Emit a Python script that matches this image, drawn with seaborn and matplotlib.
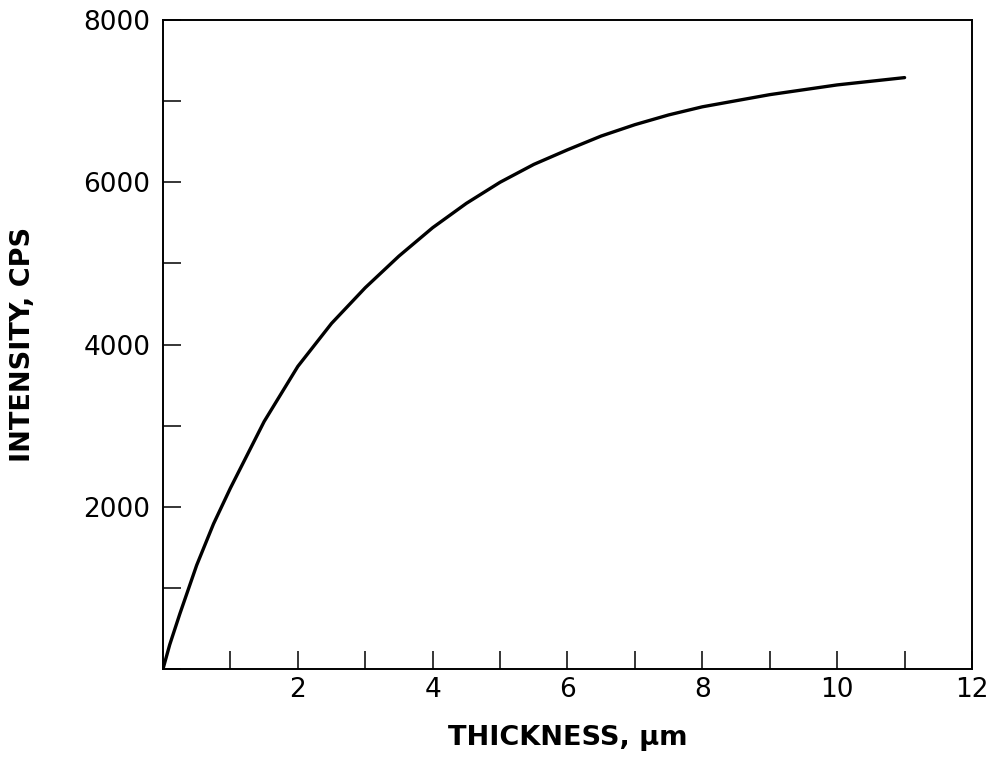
import matplotlib
matplotlib.use("Agg")
import matplotlib.pyplot as plt
import seaborn as sns
import numpy as np
import pandas as pd

# values
thickness = [0, 0.1, 0.25, 0.5, 0.75, 1.0, 1.5, 2.0, 2.5, 3.0, 3.5, 4.0, 4.5,
             5.0, 5.5, 6.0, 6.5, 7.0, 7.5, 8.0, 9.0, 10.0, 11.0]
intensity = [0, 300, 680, 1280, 1790, 2230, 3050, 3730, 4260, 4700, 5090, 5440, 5740,
             6000, 6220, 6400, 6570, 6710, 6830, 6930, 7080, 7200, 7290]

x_ticks = list(range(0, 13))
y_ticks = list(range(0, 8001, 1000))

sns.set_style("white")
plt.rcParams['font.family'] = ['DejaVu Sans']

df = pd.DataFrame({"thickness": thickness, "intensity": intensity})

fig = plt.figure(figsize=(9.95, 7.58), dpi=100)
ax = fig.add_axes([0.1638, 0.1174, 0.8131, 0.8562])

sns.lineplot(data=df, x="thickness", y="intensity", color="black", linewidth=2.4, ax=ax)

ax.set_xlim(0, 12)
ax.set_ylim(0, 8000)
ax.set_xticks(x_ticks)
ax.set_xticklabels([str(v) if v % 2 == 0 and v > 0 else "" for v in x_ticks])
ax.set_yticks(y_ticks)
ax.set_yticklabels([str(v) if v % 2000 == 0 and v > 0 else "" for v in y_ticks])

ax.tick_params(direction="in", length=13, width=1.1, labelsize=19, color="black",
               labelcolor="black", bottom=True, left=True, top=False, right=False)
ax.tick_params(axis="x", pad=6)
ax.tick_params(axis="y", pad=9)

for s in ax.spines.values():
    s.set_visible(True)
    s.set_color("black")
    s.set_linewidth(1.4)

ax.set_xlabel("THICKNESS, µm", fontsize=19.5, fontweight="bold", color="black")
ax.set_ylabel("INTENSITY, CPS", fontsize=19.5, fontweight="bold", color="black")
ax.xaxis.set_label_coords(0.5, -0.086)
ax.yaxis.set_label_coords(-0.157, 0.5)
ax.grid(False)

fig.savefig("out.png", dpi=100)
